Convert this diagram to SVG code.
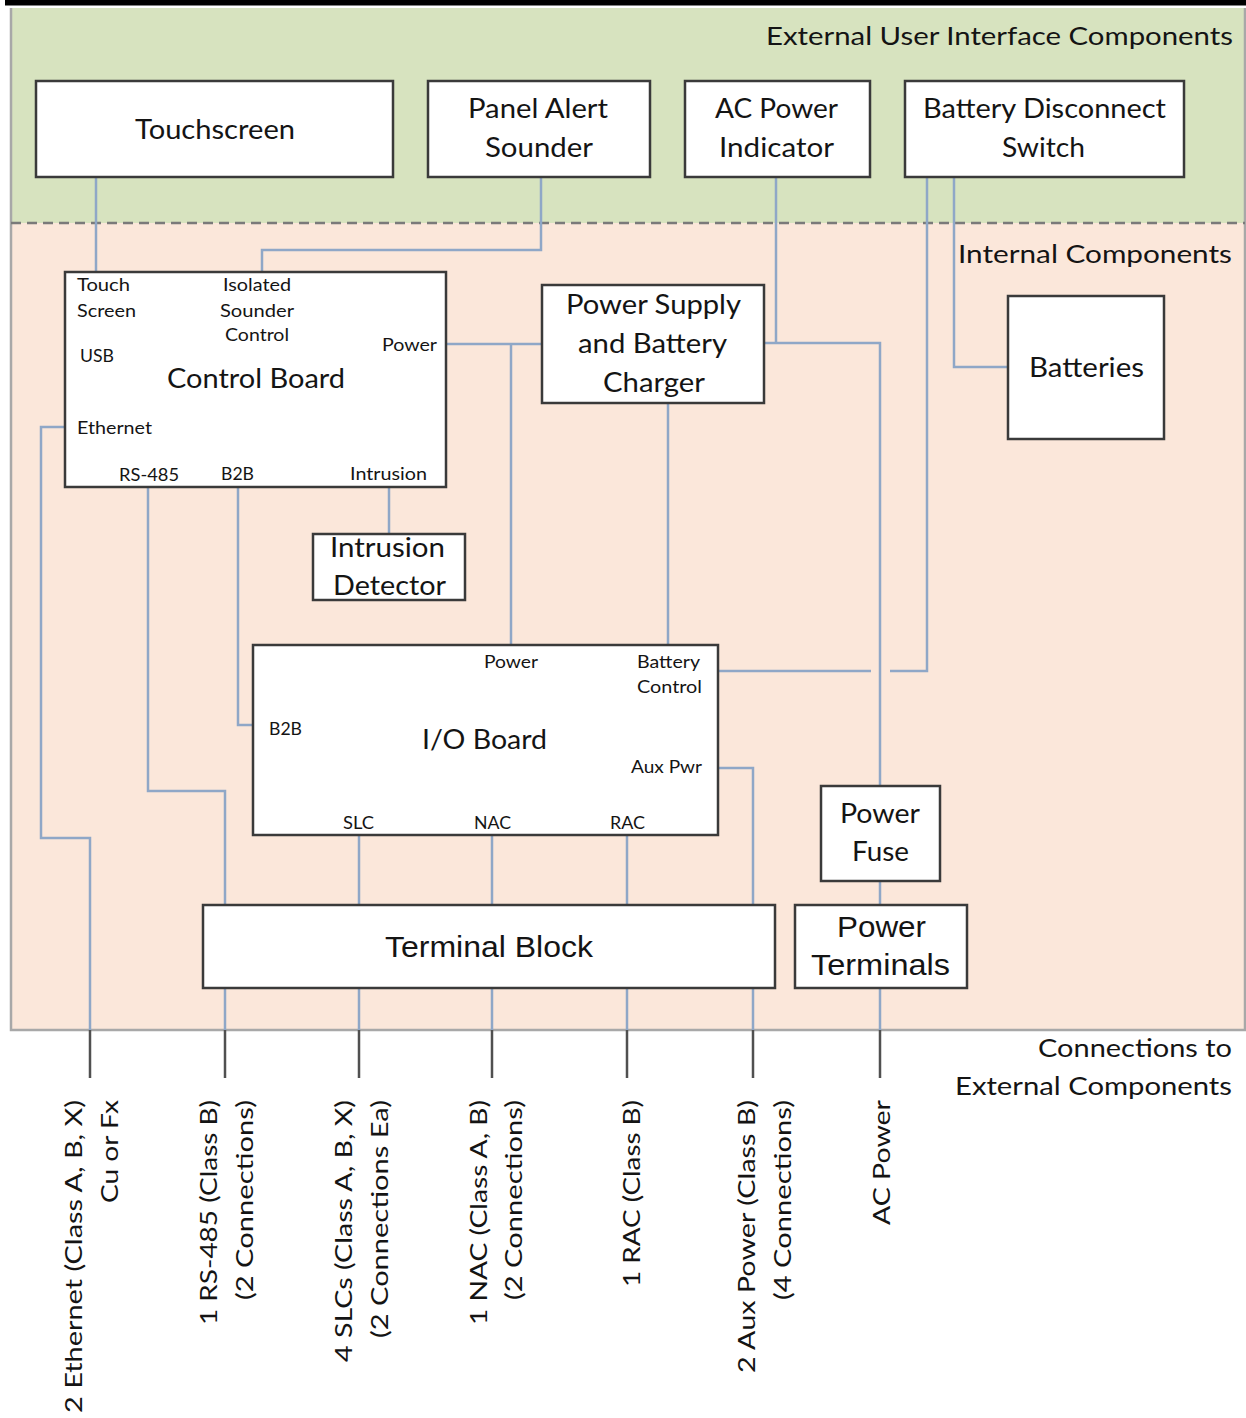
<svg xmlns="http://www.w3.org/2000/svg" width="1246" height="1418" viewBox="0 0 1246 1418">
<style>
.box{fill:#fff;stroke:#3a3a3a;stroke-width:2.5}
.w{fill:none;stroke:#8fa7c7;stroke-width:2.5}
.x{fill:none;stroke:#505050;stroke-width:2.5}
text{font-family:Lato,"Liberation Sans",sans-serif;fill:#141414}
.big{font-size:27px}
.sm{font-size:18px}
.hd{font-size:25px}
.vt{font-size:24px}
.ar{font-family:"Liberation Sans",Arial,sans-serif;font-size:29px}
</style>
<rect x="0" y="0" width="1246" height="1418" fill="#fff"/>
<rect x="5" y="0" width="1241" height="5.5" fill="#000"/>
<g id="regions">
<rect x="11" y="8" width="1234" height="215" fill="#d7e3bf"/>
<rect x="11" y="223" width="1234" height="807" fill="#fbe7da"/>
<path d="M11 8 V1030 H1245 V8" fill="none" stroke="#a8a8a8" stroke-width="2.5"/>
<line x1="11" y1="223" x2="1245" y2="223" stroke="#7a7a7a" stroke-width="2.5" stroke-dasharray="10 6"/>
<text class="hd" x="766" y="45" textLength="467" lengthAdjust="spacingAndGlyphs">External User Interface Components</text>
<text class="hd" x="958" y="263" textLength="274" lengthAdjust="spacingAndGlyphs">Internal Components</text>
<text class="hd" x="1038" y="1057" textLength="194" lengthAdjust="spacingAndGlyphs">Connections to</text>
<text class="hd" x="955" y="1095" textLength="277" lengthAdjust="spacingAndGlyphs">External Components</text>
</g>
<g id="connectors">
<path class="w" d="M96 177 V272"/>
<path class="w" d="M541 177 V250 H262 V272"/>
<path class="w" d="M776 177 V343"/>
<path class="w" d="M764 343 H880 V786"/>
<path class="w" d="M446 344 H542"/>
<path class="w" d="M511 344 V645"/>
<path class="w" d="M668 403 V645"/>
<path class="w" d="M954 177 V367 H1008"/>
<path class="w" d="M927 177 V671 H890"/>
<path class="w" d="M871 671 H718"/>
<path class="w" d="M389 487 V534"/>
<path class="w" d="M65 427 H41 V838 H90 V1030"/>
<path class="w" d="M148 487 V791 H225 V905"/>
<path class="w" d="M238 487 V725 H253"/>
<path class="w" d="M359 835 V905"/>
<path class="w" d="M492 835 V905"/>
<path class="w" d="M627 835 V905"/>
<path class="w" d="M718 768 H753 V905"/>
<path class="w" d="M880 881 V905"/>
<path class="w" d="M225 988 V1030 M359 988 V1030 M492 988 V1030 M627 988 V1030 M753 988 V1030 M880 988 V1030"/>
<path class="x" d="M90 1030 V1078 M225 1030 V1078 M359 1030 V1078 M492 1030 V1078 M627 1030 V1078 M753 1030 V1078 M880 1030 V1078"/>
</g>
<g id="touchscreen">
<rect class="box" x="36" y="81" width="357" height="96"/>
<text class="big" x="135" y="139" textLength="160" lengthAdjust="spacingAndGlyphs">Touchscreen</text>
</g>
<g id="panel-alert-sounder">
<rect class="box" x="428" y="81" width="222" height="96"/>
<text class="big" x="468" y="118" textLength="140" lengthAdjust="spacingAndGlyphs">Panel Alert</text>
<text class="big" x="485" y="157" textLength="108" lengthAdjust="spacingAndGlyphs">Sounder</text>
</g>
<g id="ac-power-indicator">
<rect class="box" x="685" y="81" width="185" height="96"/>
<text class="big" x="715" y="118" textLength="123" lengthAdjust="spacingAndGlyphs">AC Power</text>
<text class="big" x="719" y="157" textLength="115" lengthAdjust="spacingAndGlyphs">Indicator</text>
</g>
<g id="battery-disconnect-switch">
<rect class="box" x="905" y="81" width="279" height="96"/>
<text class="big" x="923" y="118" textLength="243" lengthAdjust="spacingAndGlyphs">Battery Disconnect</text>
<text class="big" x="1002" y="157" textLength="83" lengthAdjust="spacingAndGlyphs">Switch</text>
</g>
<g id="control-board">
<rect class="box" x="65" y="272" width="381" height="215"/>
<text class="big" x="167" y="388" textLength="178" lengthAdjust="spacingAndGlyphs">Control Board</text>
<text class="sm" x="77" y="291" textLength="53" lengthAdjust="spacingAndGlyphs">Touch</text>
<text class="sm" x="77" y="317" textLength="59" lengthAdjust="spacingAndGlyphs">Screen</text>
<text class="sm" x="223" y="291" textLength="68" lengthAdjust="spacingAndGlyphs">Isolated</text>
<text class="sm" x="220" y="317" textLength="74" lengthAdjust="spacingAndGlyphs">Sounder</text>
<text class="sm" x="225" y="341" textLength="64" lengthAdjust="spacingAndGlyphs">Control</text>
<text class="sm" x="382" y="351" textLength="55" lengthAdjust="spacingAndGlyphs">Power</text>
<text class="sm" x="80" y="362" textLength="34" lengthAdjust="spacingAndGlyphs">USB</text>
<text class="sm" x="77" y="434" textLength="75" lengthAdjust="spacingAndGlyphs">Ethernet</text>
<text class="sm" x="119" y="481" textLength="60" lengthAdjust="spacingAndGlyphs">RS-485</text>
<text class="sm" x="221" y="480" textLength="33" lengthAdjust="spacingAndGlyphs">B2B</text>
<text class="sm" x="350" y="480" textLength="77" lengthAdjust="spacingAndGlyphs">Intrusion</text>
</g>
<g id="intrusion-detector">
<rect class="box" x="313" y="534" width="152" height="66"/>
<text class="big" x="330" y="557" textLength="115" lengthAdjust="spacingAndGlyphs">Intrusion</text>
<text class="big" x="333" y="595" textLength="113" lengthAdjust="spacingAndGlyphs">Detector</text>
</g>
<g id="power-supply">
<rect class="box" x="542" y="285" width="222" height="118"/>
<text class="big" x="566" y="314" textLength="175" lengthAdjust="spacingAndGlyphs">Power Supply</text>
<text class="big" x="578" y="353" textLength="149" lengthAdjust="spacingAndGlyphs">and Battery</text>
<text class="big" x="603" y="392" textLength="102" lengthAdjust="spacingAndGlyphs">Charger</text>
</g>
<g id="batteries">
<rect class="box" x="1008" y="296" width="156" height="143"/>
<text class="big" x="1029" y="377" textLength="115" lengthAdjust="spacingAndGlyphs">Batteries</text>
</g>
<g id="io-board">
<rect class="box" x="253" y="645" width="465" height="190"/>
<text class="big" x="422" y="749" textLength="125" lengthAdjust="spacingAndGlyphs">I/O Board</text>
<text class="sm" x="484" y="668" textLength="54" lengthAdjust="spacingAndGlyphs">Power</text>
<text class="sm" x="637" y="668" textLength="63" lengthAdjust="spacingAndGlyphs">Battery</text>
<text class="sm" x="637" y="693" textLength="65" lengthAdjust="spacingAndGlyphs">Control</text>
<text class="sm" x="269" y="735" textLength="33" lengthAdjust="spacingAndGlyphs">B2B</text>
<text class="sm" x="631" y="773" textLength="71" lengthAdjust="spacingAndGlyphs">Aux Pwr</text>
<text class="sm" x="343" y="829" textLength="31" lengthAdjust="spacingAndGlyphs">SLC</text>
<text class="sm" x="474" y="829" textLength="37" lengthAdjust="spacingAndGlyphs">NAC</text>
<text class="sm" x="610" y="829" textLength="35" lengthAdjust="spacingAndGlyphs">RAC</text>
</g>
<g id="power-fuse">
<rect class="box" x="821" y="786" width="119" height="95"/>
<text class="big" x="840" y="823" textLength="80" lengthAdjust="spacingAndGlyphs">Power</text>
<text class="big" x="852" y="861" textLength="57" lengthAdjust="spacingAndGlyphs">Fuse</text>
</g>
<g id="terminal-block">
<rect class="box" x="203" y="905" width="572" height="83"/>
<text class="ar" x="385" y="957" textLength="208" lengthAdjust="spacingAndGlyphs">Terminal Block</text>
</g>
<g id="power-terminals">
<rect class="box" x="795" y="905" width="172" height="83"/>
<text class="ar" x="837" y="937" textLength="89" lengthAdjust="spacingAndGlyphs">Power</text>
<text class="ar" x="811" y="975" textLength="139" lengthAdjust="spacingAndGlyphs">Terminals</text>
</g>
<g id="external-labels">
<text class="vt" transform="translate(82 1413) rotate(-90)" textLength="313" lengthAdjust="spacingAndGlyphs">2 Ethernet (Class A, B, X)</text>
<text class="vt" transform="translate(118 1203) rotate(-90)" textLength="103" lengthAdjust="spacingAndGlyphs">Cu or Fx</text>
<text class="vt" transform="translate(217 1325) rotate(-90)" textLength="225" lengthAdjust="spacingAndGlyphs">1 RS-485 (Class B)</text>
<text class="vt" transform="translate(253 1300) rotate(-90)" textLength="200" lengthAdjust="spacingAndGlyphs">(2 Connections)</text>
<text class="vt" transform="translate(352 1362) rotate(-90)" textLength="262" lengthAdjust="spacingAndGlyphs">4 SLCs (Class A, B, X)</text>
<text class="vt" transform="translate(388 1338) rotate(-90)" textLength="238" lengthAdjust="spacingAndGlyphs">(2 Connections Ea)</text>
<text class="vt" transform="translate(487 1325) rotate(-90)" textLength="225" lengthAdjust="spacingAndGlyphs">1 NAC (Class A, B)</text>
<text class="vt" transform="translate(522 1300) rotate(-90)" textLength="200" lengthAdjust="spacingAndGlyphs">(2 Connections)</text>
<text class="vt" transform="translate(640 1287) rotate(-90)" textLength="187" lengthAdjust="spacingAndGlyphs">1 RAC (Class B)</text>
<text class="vt" transform="translate(755 1373) rotate(-90)" textLength="273" lengthAdjust="spacingAndGlyphs">2 Aux Power (Class B)</text>
<text class="vt" transform="translate(791 1300) rotate(-90)" textLength="200" lengthAdjust="spacingAndGlyphs">(4 Connections)</text>
<text class="vt" transform="translate(890 1225) rotate(-90)" textLength="125" lengthAdjust="spacingAndGlyphs">AC Power</text>
</g>
</svg>
